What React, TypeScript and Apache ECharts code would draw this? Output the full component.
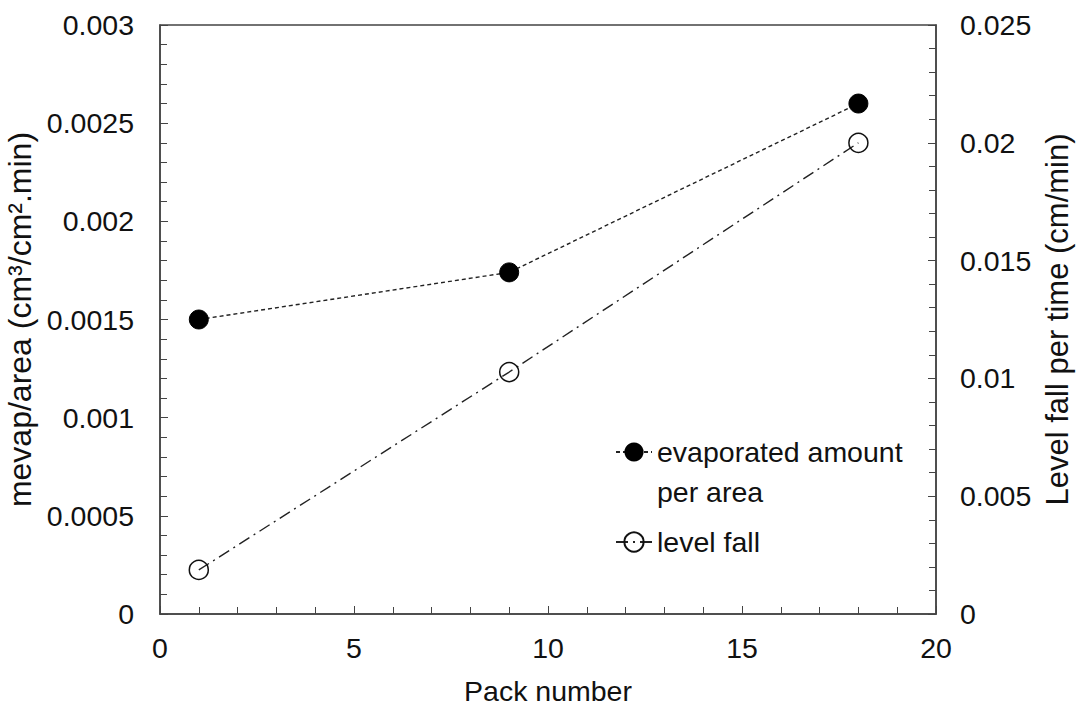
import React, { useEffect, useRef } from "react";
import * as echarts from "echarts";

const packNumbers = [1, 9, 18];
const evaporatedPerArea = [0.0015, 0.00174, 0.0026];
const levelFall = [0.00187, 0.01027, 0.02];
const seriesNames = ["evaporated amount\nper area", "level fall"];

const FONT = "Liberation Sans, Arial, sans-serif";

export default function App() {
  const ref = useRef<HTMLDivElement>(null);
  useEffect(() => {
    if (!ref.current) return;
    const chart = echarts.init(ref.current, undefined, { renderer: "svg" });
    const axisColor = "#444";
    const label = { color: "#111", fontSize: 28.5, fontFamily: FONT };
    chart.setOption({
      animation: false,
      backgroundColor: "#fff",
      textStyle: { fontFamily: FONT },
      grid: {
        left: 160,
        right: 144,
        top: 25,
        bottom: 97,
        outerBoundsMode: "none",
        containLabel: false,
        show: true,
        borderColor: axisColor,
        borderWidth: 1.5,
      },
      legend: {
        left: 610,
        top: 387,
        orient: "vertical",
        itemWidth: 36,
        itemHeight: 24,
        itemGap: 10,
        textStyle: { ...label, lineHeight: 40 },
        formatter: (name: string) => (name === seriesNames[0] ? "\n" + name : name),
        data: seriesNames,
      },
      xAxis: {
        type: "value",
        min: 0,
        max: 20,
        interval: 5,
        name: "Pack number",
        nameLocation: "middle",
        nameGap: 62,
        nameTextStyle: label,
        axisLine: { lineStyle: { color: axisColor, width: 1.5 } },
        axisTick: { inside: true, length: 8, lineStyle: { color: axisColor } },
        minorTick: { show: true, splitNumber: 5, length: 7, lineStyle: { color: axisColor } },
        axisLabel: { ...label, margin: 19 },
        splitLine: { show: false },
      },
      yAxis: [
        {
          type: "value",
          min: 0,
          max: 0.003,
          interval: 0.0005,
          name: "mevap/area (cm³/cm².min)",
          nameLocation: "middle",
          nameRotate: 90,
          nameGap: 114,
          nameTextStyle: { ...label, fontSize: 32 },
          axisLine: { show: true, lineStyle: { color: axisColor, width: 1.5 } },
          axisTick: { inside: true, length: 8, lineStyle: { color: axisColor } },
          minorTick: { show: true, splitNumber: 5, length: 7, lineStyle: { color: axisColor } },
          axisLabel: { ...label, margin: 26, formatter: (v: number) => String(+v.toFixed(4)) },
          splitLine: { show: false },
        },
        {
          type: "value",
          min: 0,
          max: 0.025,
          interval: 0.005,
          position: "right",
          name: "Level fall per time (cm/min)",
          nameLocation: "middle",
          nameRotate: 90,
          nameGap: 102,
          nameTextStyle: { ...label, fontSize: 31 },
          axisLine: { show: true, lineStyle: { color: axisColor, width: 1.5 } },
          axisTick: { inside: true, length: 8, lineStyle: { color: axisColor } },
          minorTick: { show: true, splitNumber: 5, length: 7, lineStyle: { color: axisColor } },
          axisLabel: { ...label, margin: 24, formatter: (v: number) => String(+v.toFixed(3)) },
          splitLine: { show: false },
        },
      ],
      series: [
        {
          name: seriesNames[0],
          type: "line",
          yAxisIndex: 0,
          data: packNumbers.map((x, i) => [x, evaporatedPerArea[i]]),
          symbol: "circle",
          symbolSize: 19,
          itemStyle: { color: "#000", borderColor: "#000" },
          lineStyle: { color: "#222", width: 1.4, type: [4, 3] },
        },
        {
          name: seriesNames[1],
          type: "line",
          yAxisIndex: 1,
          data: packNumbers.map((x, i) => [x, levelFall[i]]),
          symbol: "circle",
          symbolSize: 19,
          itemStyle: { color: "rgba(255,255,255,0)", borderColor: "#111", borderWidth: 1.5 },
          lineStyle: { color: "#222", width: 1.4, type: [12, 5, 2, 5] },
        },
      ],
    });
    return () => chart.dispose();
  }, []);
  return <div ref={ref} style={{ width: 1080, height: 711, position: "absolute", left: 0, top: 0 }} />;
}
